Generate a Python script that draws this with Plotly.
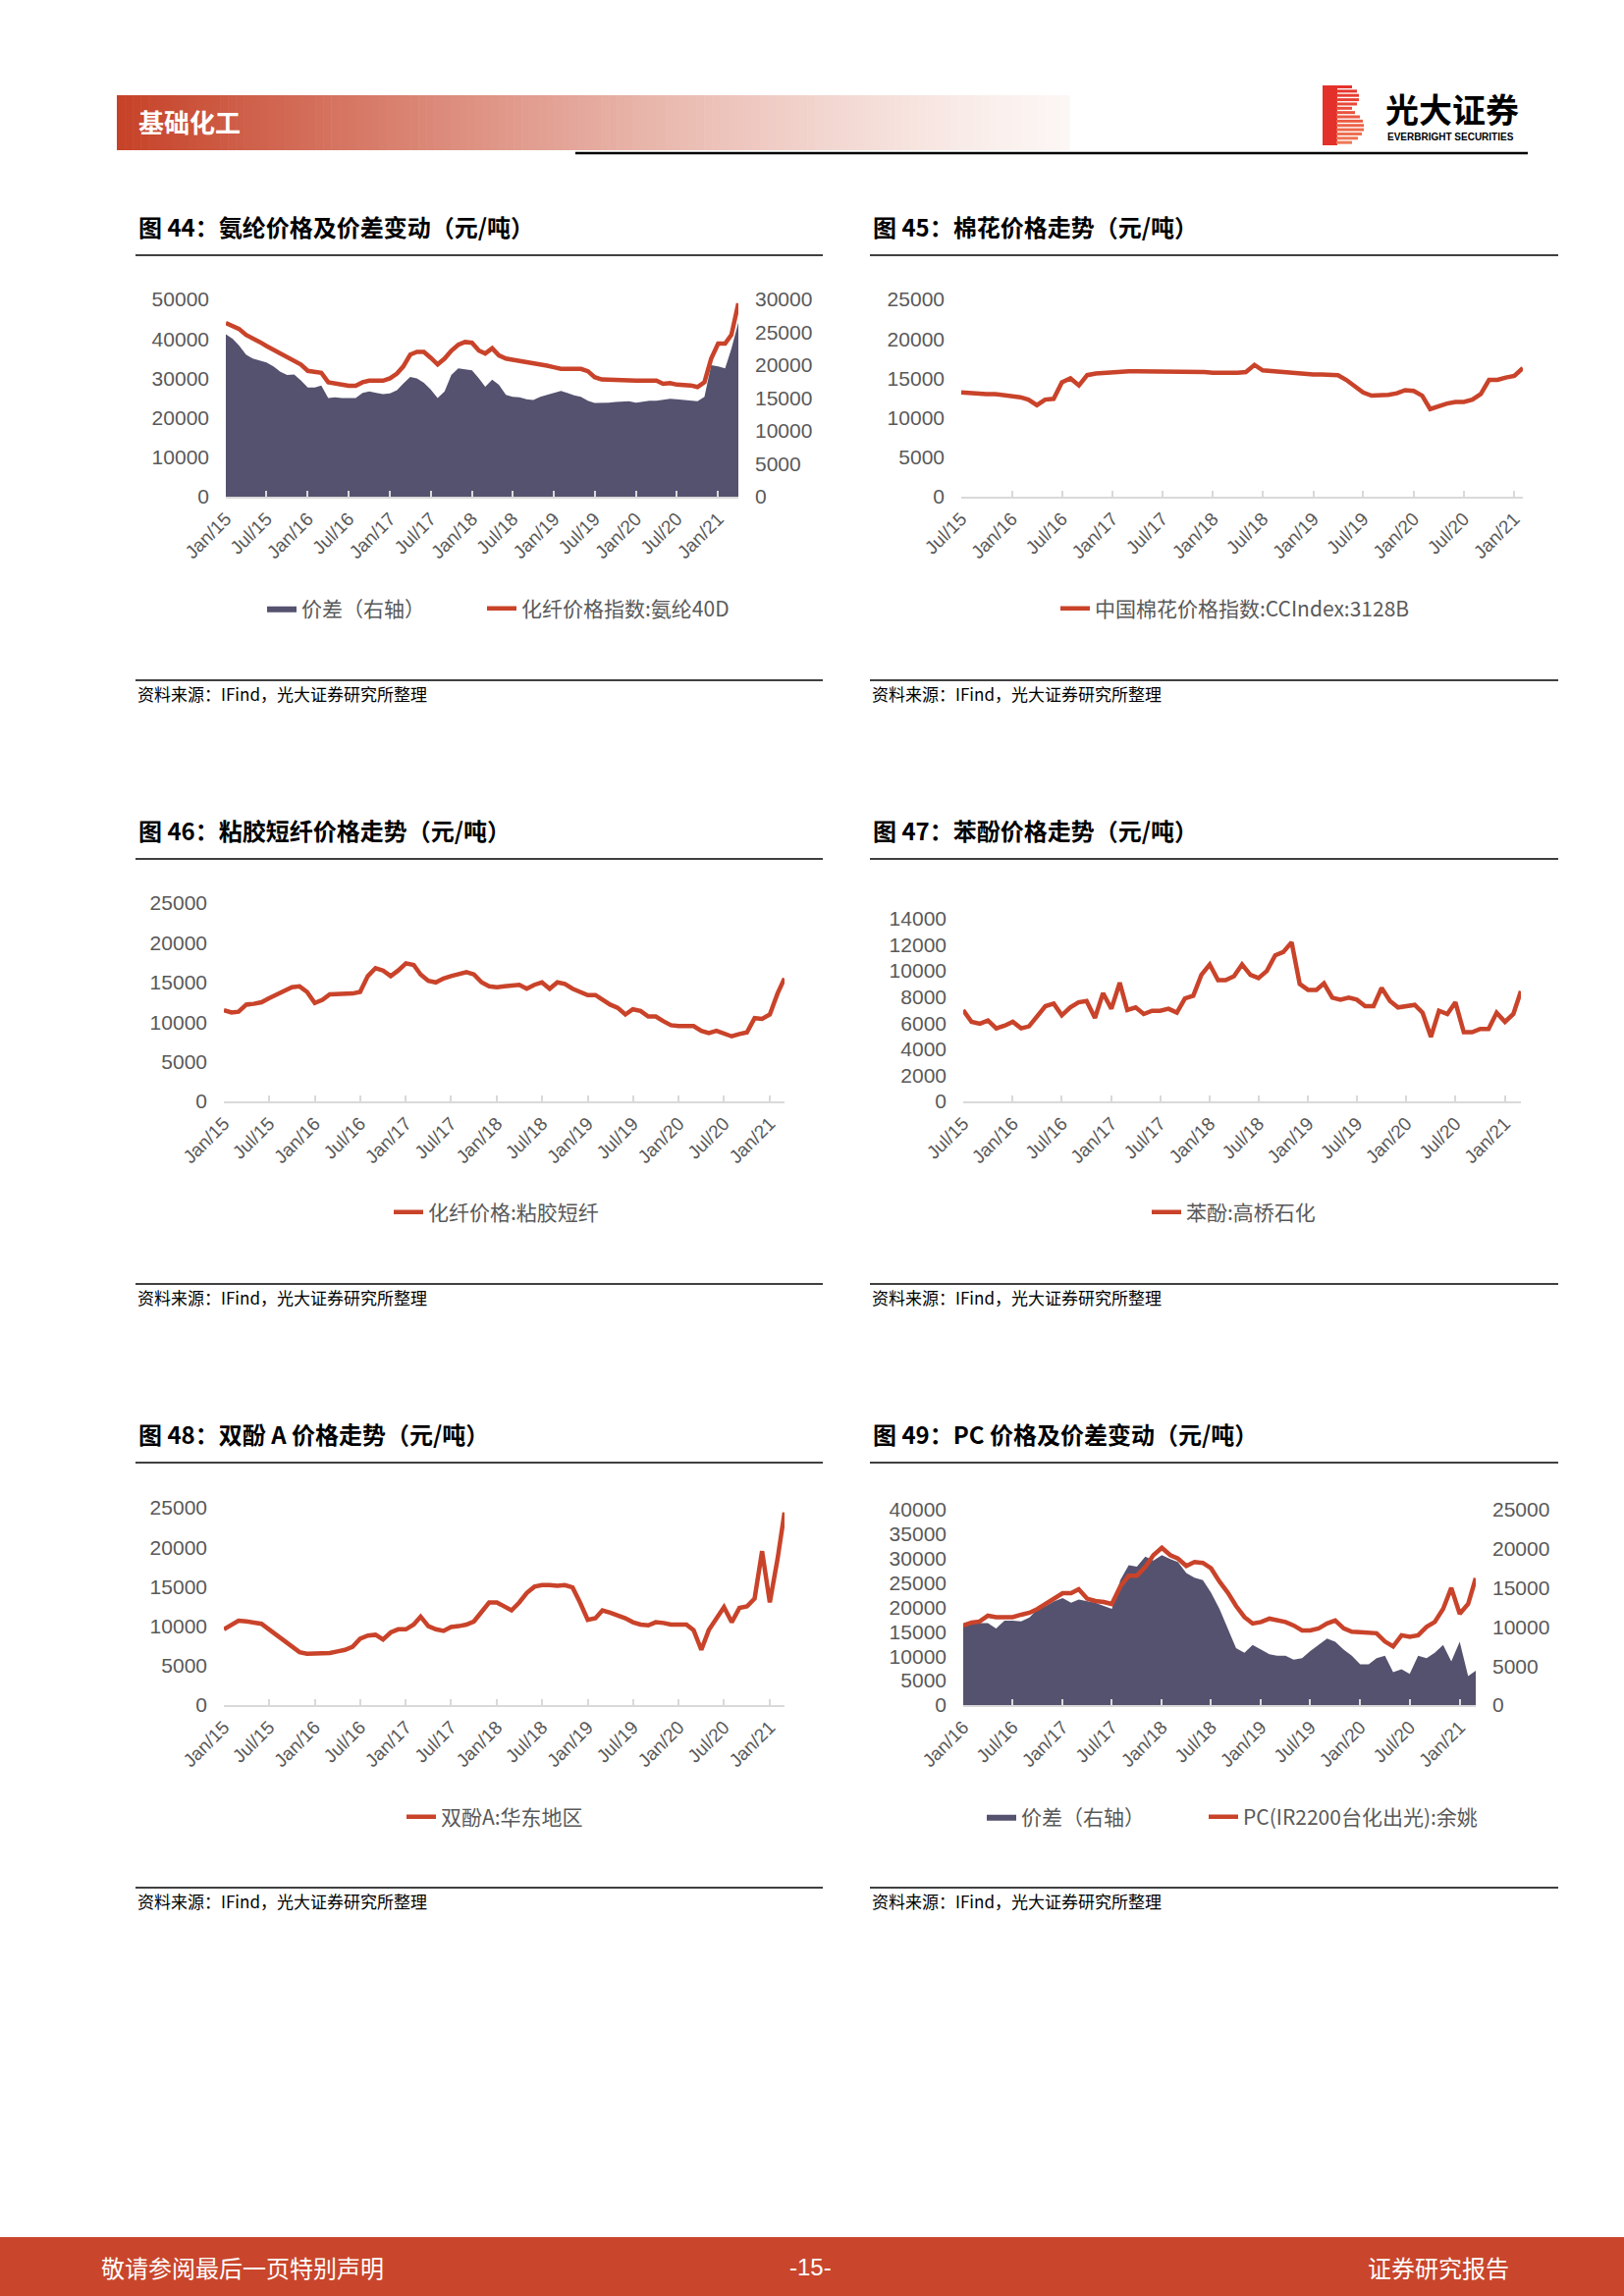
import pandas as pd
import plotly.graph_objects as go

W, H = 1654, 2339
RED = "#C9432A"
SLATE = "#55526F"
GREY = "#595959"
AXIS = "#D9D9D9"
NUM_FONT = "Liberation Sans, Arial, Noto Sans CJK SC, sans-serif"
CJK_FONT = "Noto Sans CJK SC, Liberation Sans, sans-serif"

# ---- data: monthly values (元/吨) ----
# 图44 氨纶 40D price (left axis) and spread (right axis), Jan/15 .. Apr/21
spandex_start = "2015-01-01"
spandex_price = [44000, 43200, 42500, 41000, 40200, 39200, 38200, 37200, 36200, 35300, 34400, 33500,
                 31900, 31600, 31400, 29000, 28700, 28300, 28100, 28100, 29000, 29400, 29400, 29400,
                 30000, 31200, 33000, 36000, 36700, 36700, 35200, 33500, 35000, 37000, 38500, 39200,
                 39000, 37000, 36300, 37600, 35800, 35000, 34700, 34400, 34200, 34000, 33600, 33200,
                 32800, 32400, 32400, 32300, 32400, 31800, 30300, 29700, 29600, 29500, 29500, 29500,
                 29400, 29400, 29400, 29400, 28600, 28800, 28400, 28300, 28200, 27800, 29000, 35000,
                 38800, 38800, 41000, 49000]
spandex_spread = [24700, 24000, 23000, 21600, 21000, 20700, 20400, 19800, 19000, 18500, 18600, 17700,
                  16600, 16600, 16900, 15000, 15100, 15000, 15000, 15000, 15800, 16000, 15800, 15600,
                  15700, 16200, 17200, 18200, 18000, 17300, 16300, 15000, 16000, 18500, 19500, 19400,
                  19200, 18000, 16700, 17800, 17000, 15500, 15200, 15100, 14800, 14700, 15200, 15500,
                  15800, 16100, 15800, 15400, 15200, 14600, 14250, 14250, 14300, 14400, 14450, 14500,
                  14300, 14500, 14600, 14600, 14700, 14900, 14800, 14700, 14700, 14500, 15200, 20000,
                  19800, 19500, 22500, 26500]

# 图45 cotton CCIndex 3128B, Jul/15 .. Feb/21
cotton_start = "2015-07-01"
cotton = [13200, 13100, 13100, 13000, 13000, 12900, 12800, 12600, 12300, 11600, 12300, 12400,
          14500, 15000, 14100, 15400, 15600, 15700, 15800, 15900, 15900, 15900, 15900, 15900,
          15900, 15900, 15900, 15900, 15800, 15800, 15700, 15700, 15600, 15700, 15800, 16700,
          16000, 15900, 15900, 15800, 15700, 15600, 15500, 15500, 15500, 15400, 14800, 14000,
          13200, 12800, 12800, 12900, 13100, 13500, 13400, 12800, 11100, 11500, 11800, 12000,
          12000, 12300, 13000, 14800, 14800, 15100, 15300, 16300]

# 图46 viscose staple fibre, Jan/15 .. Mar/21
viscose_start = "2015-01-01"
viscose = [11500, 11200, 11300, 12200, 12300, 12500, 13000, 13500, 14000, 14400, 14500, 13800,
           12400, 12800, 13500, 13500, 13500, 13600, 13800, 15800, 16800, 16500, 15800, 16500,
           17400, 17200, 16000, 15200, 15000, 15500, 15800, 16000, 16300, 16000, 15000, 14500,
           14400, 14500, 14600, 14700, 14200, 14700, 15000, 14200, 15000, 14800, 14200, 13800,
           13400, 13400, 12800, 12200, 11800, 10950, 11600, 11400, 10700, 10700, 10100, 9600,
           9500, 9500, 9500, 8900, 8600, 8900, 8600, 8200, 8500, 8700, 10500, 10400,
           10950, 13600, 15500]

# 图47 phenol (Gaoqiao Petrochemical), Jul/15 .. Mar/21
phenol_start = "2015-07-01"
phenol = [7000, 6100, 5950, 6200, 5600, 5800, 6100, 5600, 5750, 6600, 7300, 7500,
          6600, 7200, 7600, 7700, 6400, 8300, 7100, 9100, 7000, 7200, 6700, 6950,
          6950, 7100, 6800, 7900, 8100, 9700, 10500, 9300, 9300, 9600, 10500, 9700,
          9450, 10000, 11200, 11450, 12200, 9000, 8550, 8550, 9050, 7950, 7800, 7950,
          7800, 7300, 7300, 8700, 7700, 7200, 7300, 7400, 6800, 4950, 6950, 6700,
          7600, 5300, 5300, 5550, 5550, 6800, 6100, 6700, 8450]

# 图48 bisphenol A (East China), Jan/15 .. Mar/21
bpa_start = "2015-01-01"
bpa = [9600, 10200, 10700, 10600, 10500, 10300, 9600, 8900, 8200, 7400, 6700, 6500,
       6500, 6500, 6600, 6800, 7000, 7400, 8400, 8800, 8900, 8300, 9200, 9600,
       9600, 10200, 11200, 10000, 9600, 9400, 9900, 10000, 10200, 10600, 11800, 13000,
       13000, 12500, 12000, 13000, 14200, 15000, 15200, 15200, 15100, 15200, 14900, 13000,
       10800, 11000, 12000, 11700, 11400, 11000, 10500, 10200, 10100, 10500, 10400, 10200,
       10200, 10200, 9500, 7000, 9500, 11000, 12400, 10500, 12300, 12500, 13500, 19500,
       13000, 18500, 24400]

# 图49 PC price (left axis) and spread (right axis), Jan/16 .. Mar/21
pc_start = "2016-01-01"
pc_price = [16300, 16900, 17100, 18300, 18000, 18000, 18000, 18500, 18900, 19700, 20700, 21700,
            22900, 22900, 23700, 21800, 21300, 21100, 20700, 24300, 26500, 26500, 28300, 30700,
            32200, 30700, 30000, 28500, 29300, 29100, 28000, 25300, 23000, 20300, 18000, 16700,
            17000, 17700, 17300, 17000, 16300, 15300, 15300, 15700, 16700, 17300, 15700, 15000,
            14900, 14900, 14700, 13000, 12000, 14300, 14000, 14300, 16000, 17000, 19700, 24000,
            18700, 20700, 26000]
pc_spread = [10400, 10400, 10500, 10500, 9800, 10800, 10800, 10700, 11200, 12300, 12700, 13300,
             13700, 13100, 13500, 13300, 13100, 12700, 12300, 16000, 17900, 17700, 19000, 18500,
             19200, 18700, 18300, 16900, 16300, 16000, 14400, 12300, 9800, 7300, 6700, 7700,
             7100, 6500, 6300, 6300, 5800, 6000, 6900, 7700, 8500, 8100, 7100, 6300,
             5200, 5200, 6000, 6300, 4200, 4600, 4000, 6300, 6000, 6700, 7700, 5600,
             8100, 3700, 4400]

TICKS_JAN15 = ["Jan/15", "Jul/15", "Jan/16", "Jul/16", "Jan/17", "Jul/17", "Jan/18",
               "Jul/18", "Jan/19", "Jul/19", "Jan/20", "Jul/20", "Jan/21"]
TICKS_JUL15 = TICKS_JAN15[1:]
TICKS_JAN16 = TICKS_JAN15[2:]

TITLES = ["图 44：氨纶价格及价差变动（元/吨）", "图 45：棉花价格走势（元/吨）",
          "图 46：粘胶短纤价格走势（元/吨）", "图 47：苯酚价格走势（元/吨）",
          "图 48：双酚 A 价格走势（元/吨）", "图 49：PC 价格及价差变动（元/吨）"]
SOURCE = "资料来源：IFind，光大证券研究所整理"


def px(x):
    return x / W


def py(y):
    return 1 - y / H


def months(start, vals):
    return pd.date_range(start, periods=len(vals), freq="MS")


def xax(x0, x1, rng, ticks, anchor):
    vals = [pd.to_datetime(t, format="%b/%y").strftime("%Y-%m-%d") for t in ticks]
    return dict(domain=[px(x0), px(x1)], range=rng, type="date", anchor=anchor,
                tickvals=vals, ticktext=ticks, tickangle=-45, automargin=False,
                ticks="inside", ticklen=6, tickwidth=1.5, tickcolor=AXIS,
                showline=True, linecolor=AXIS, linewidth=2,
                showgrid=False, zeroline=False, ticklabelstandoff=2,
                tickfont=dict(family=NUM_FONT, size=19, color=GREY))


def yax(y_bottom, y_top, top, dtick, anchor, side="left", overlay=None):
    d = dict(range=[0, top], dtick=dtick, tick0=0, anchor=anchor, side=side,
             showgrid=False, zeroline=False, showline=False, ticks="",
             tickformat="d", ticklabelstandoff=16, automargin=False,
             tickfont=dict(family=NUM_FONT, size=21, color=GREY))
    if overlay:
        d["overlaying"] = overlay
    else:
        d["domain"] = [py(y_bottom), py(y_top)]
    return d


def legend(text_x, y):
    return dict(x=px(text_x - 41), y=py(y), xanchor="left", yanchor="middle",
                orientation="h", bgcolor="rgba(0,0,0,0)", borderwidth=0,
                font=dict(family=CJK_FONT, size=21, color=GREY))


fig = go.Figure()

# 图44
fig.add_trace(go.Scatter(x=months(spandex_start, spandex_spread), y=spandex_spread,
                         mode="lines", fill="tozeroy", fillcolor=SLATE,
                         line=dict(width=0, color=SLATE), name="价差（右轴）",
                         xaxis="x", yaxis="y", legend="legend"))
fig.add_trace(go.Scatter(x=months(spandex_start, spandex_price), y=spandex_price,
                         mode="lines", line=dict(width=4.5, color=RED),
                         name="化纤价格指数:氨纶40D", xaxis="x", yaxis="y2", legend="legend2"))
# 图45
fig.add_trace(go.Scatter(x=months(cotton_start, cotton), y=cotton, mode="lines",
                         line=dict(width=4.5, color=RED), name="中国棉花价格指数:CCIndex:3128B",
                         xaxis="x2", yaxis="y3", legend="legend3"))
# 图46
fig.add_trace(go.Scatter(x=months(viscose_start, viscose), y=viscose, mode="lines",
                         line=dict(width=4.5, color=RED), name="化纤价格:粘胶短纤",
                         xaxis="x3", yaxis="y4", legend="legend4"))
# 图47
fig.add_trace(go.Scatter(x=months(phenol_start, phenol), y=phenol, mode="lines",
                         line=dict(width=4.5, color=RED), name="苯酚:高桥石化",
                         xaxis="x4", yaxis="y5", legend="legend5"))
# 图48
fig.add_trace(go.Scatter(x=months(bpa_start, bpa), y=bpa, mode="lines",
                         line=dict(width=4.5, color=RED), name="双酚A:华东地区",
                         xaxis="x5", yaxis="y6", legend="legend6"))
# 图49
fig.add_trace(go.Scatter(x=months(pc_start, pc_spread), y=pc_spread,
                         mode="lines", fill="tozeroy", fillcolor=SLATE,
                         line=dict(width=0, color=SLATE), name="价差（右轴）",
                         xaxis="x6", yaxis="y7", legend="legend7"))
fig.add_trace(go.Scatter(x=months(pc_start, pc_price), y=pc_price, mode="lines",
                         line=dict(width=4.5, color=RED), name="PC(IR2200台化出光):余姚",
                         xaxis="x6", yaxis="y8", legend="legend8"))

layout = dict(
    template="none", width=W, height=H, margin=dict(l=0, r=0, t=0, b=0, autoexpand=False),
    paper_bgcolor="white", plot_bgcolor="white", hovermode=False, showlegend=True,
    xaxis=xax(230, 752, ["2015-01-01", "2021-04-01"], TICKS_JAN15, "y"),
    yaxis=yax(506, 305, 30000, 5000, "x", side="right"),
    yaxis2=yax(506, 305, 50000, 10000, "x", side="left", overlay="y"),
    xaxis2=xax(979, 1551, ["2015-07-01", "2021-02-01"], TICKS_JUL15, "y3"),
    yaxis3=yax(506, 305, 25000, 5000, "x2"),
    xaxis3=xax(228, 799, ["2015-01-01", "2021-03-01"], TICKS_JAN15, "y4"),
    yaxis4=yax(1122, 920, 25000, 5000, "x3"),
    xaxis4=xax(981, 1549, ["2015-07-01", "2021-03-01"], TICKS_JUL15, "y5"),
    yaxis5=yax(1122, 936, 14000, 2000, "x4"),
    xaxis5=xax(228, 799, ["2015-01-01", "2021-03-01"], TICKS_JAN15, "y6"),
    yaxis6=yax(1737, 1536, 25000, 5000, "x5"),
    xaxis6=xax(981, 1503, ["2016-01-01", "2021-03-01"], TICKS_JAN16, "y7"),
    yaxis7=yax(1737, 1538, 25000, 5000, "x6", side="right"),
    yaxis8=yax(1737, 1538, 40000, 5000, "x6", side="left", overlay="y7"),
    legend=legend(308, 620), legend2=legend(532, 620), legend3=legend(1116, 620),
    legend4=legend(437, 1235), legend5=legend(1209, 1235), legend6=legend(450, 1851),
    legend7=legend(1041, 1851), legend8=legend(1267, 1851),
)
fig.update_layout(**layout)

shapes, notes = [], []


def rect(x0, y0, x1, y1, color):
    shapes.append(dict(type="rect", xref="paper", yref="paper", x0=px(x0), x1=px(x1),
                       y0=py(y1), y1=py(y0), fillcolor=color, line=dict(width=0), layer="below"))


def hline(x0, x1, y, width=1.3, color="black"):
    shapes.append(dict(type="line", xref="paper", yref="paper", x0=px(x0), x1=px(x1),
                       y0=py(y), y1=py(y), line=dict(color=color, width=width)))


def text(x, y, s, size, color="black", anchor="left", family=CJK_FONT):
    notes.append(dict(xref="paper", yref="paper", x=px(x), y=py(y), text=s, showarrow=False,
                      xanchor=anchor, yanchor="middle",
                      font=dict(family=family, size=size, color=color)))


# header band fading from brick red to white
n = 120
for i in range(n):
    t = i / (n - 1)
    f = (1 - t) ** 1.25
    c = tuple(round(a * f + b * (1 - f)) for a, b in zip((198, 66, 40), (252, 246, 244)))
    x0 = 119 + (1089 - 119) * i / n
    rect(x0, 97, x0 + (1089 - 119) / n + 0.6, 153, "rgb(%d,%d,%d)" % c)
text(139, 124, "<b>基础化工</b>", 26, color="white")
hline(586, 1556, 156, width=2.5)

# logo
rect(1347, 87, 1362, 148, "#E3302A")
edges = [1377, 1382, 1384, 1384, 1382, 1377, 1380, 1385, 1388, 1389, 1389, 1387, 1383, 1377]
for i, e in enumerate(edges):
    t = i / (len(edges) - 1)
    c = tuple(round(a * (1 - t) + b * t) for a, b in zip((229, 50, 43), (240, 120, 85)))
    y0 = 87 + i * 4.36
    rect(1361, y0, e, y0 + 3, "rgb(%d,%d,%d)" % c)
text(1409, 111, "<b>光大证券</b>", 34)
text(1411, 139, "<b>EVERBRIGHT SECURITIES</b>", 10, family=NUM_FONT)

# chart titles, rules and source lines
for row in range(3):
    dy = row * 615
    for col, (xl, xr) in enumerate([(138, 838), (886, 1587)]):
        text(xl + 1, 230 + dy, "<b>%s</b>" % TITLES[row * 2 + col], 24)
        hline(xl, xr, 260 + dy)
        hline(xl, xr, 693 + dy)
        text(xl, 706 + dy, SOURCE, 17)

# footer
rect(0, 2279, W, H + 2, "#C9462C")
text(101, 2309, "敬请参阅最后一页特别声明", 24, color="white")
text(825, 2309, "-15-", 24, color="white", anchor="center", family=NUM_FONT)
text(1539, 2309, "证券研究报告", 24, color="white", anchor="right")

fig.update_layout(shapes=shapes, annotations=notes)
fig.write_html("out.html", config={"displayModeBar": False},
               post_script="document.body.style.margin='0';"
                           "document.body.style.overflow='hidden';")
